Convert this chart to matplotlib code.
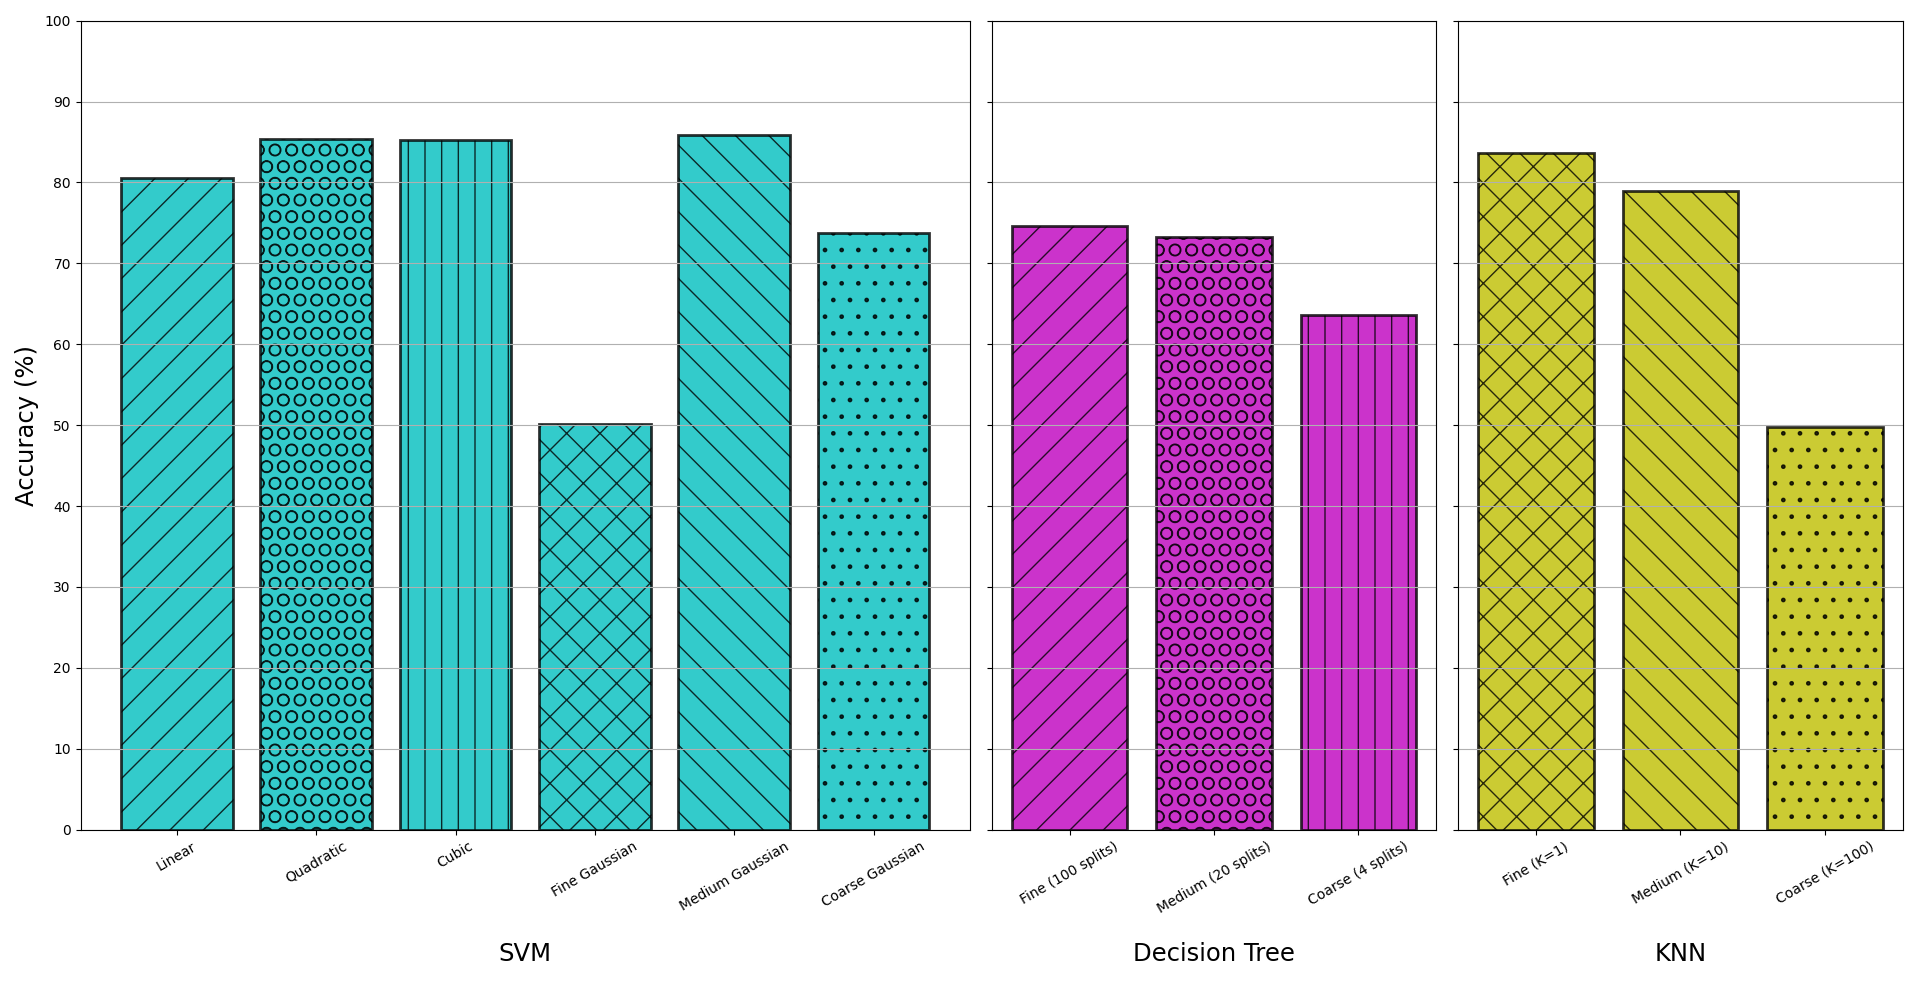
"""Classifier accuracy comparison: SVM vs Decision Tree vs KNN."""
import matplotlib
matplotlib.use("Agg")
import matplotlib.pyplot as plt

svm_labels = ["Linear", "Quadratic", "Cubic", "Fine Gaussian", "Medium Gaussian", "Coarse Gaussian"]
svm_acc = [80.6, 85.4, 85.3, 50.1, 85.9, 73.7]

tree_labels = ["Fine (100 splits)", "Medium (20 splits)", "Coarse (4 splits)"]
tree_acc = [74.6, 73.2, 63.6]

knn_labels = ["Fine (K=1)", "Medium (K=10)", "Coarse (K=100)"]
knn_acc = [83.7, 78.9, 49.8]

groups = ["SVM", "Decision Tree", "KNN"]
colors = ["c", "m", "y"]
svm_hatches = ["/", "O", "|", "x", "\\", "."]
tree_hatches = ["/", "O", "|"]
knn_hatches = ["x", "\\", "."]


def main():
    fig, axes = plt.subplots(
        1, 3, figsize=(19.2, 9.83), dpi=100, sharey=True,
        gridspec_kw={"width_ratios": [6, 3, 3]},
    )
    fig.subplots_adjust(left=0.042, right=0.991, top=0.979, bottom=0.156, wspace=0.037)

    data = [
        (svm_labels, svm_acc, svm_hatches),
        (tree_labels, tree_acc, tree_hatches),
        (knn_labels, knn_acc, knn_hatches),
    ]

    for ax, (labels, acc, hatches), name, color in zip(axes, data, groups, colors):
        x = range(len(labels))
        bars = ax.bar(x, acc, width=0.8, color=color, edgecolor="black",
                      linewidth=2, alpha=0.8)
        for bar, h in zip(bars, hatches):
            bar.set_hatch(h)
        ax.set_xticks(list(x))
        ax.set_xticklabels(labels, rotation=30)
        ax.set_xlabel(name, fontsize=17.5, va="center")
        # same baseline for all three group labels
        ax.xaxis.set_label_coords(0.5, -0.154)
        ax.yaxis.grid(True)
        ax.set_ylim(0, 100)
        ax.set_yticks(range(0, 101, 10))

    axes[0].set_ylabel("Accuracy (%)", fontsize=17.5)

    fig.savefig("out.png", dpi=100)
    plt.close(fig)


if __name__ == "__main__":
    main()
